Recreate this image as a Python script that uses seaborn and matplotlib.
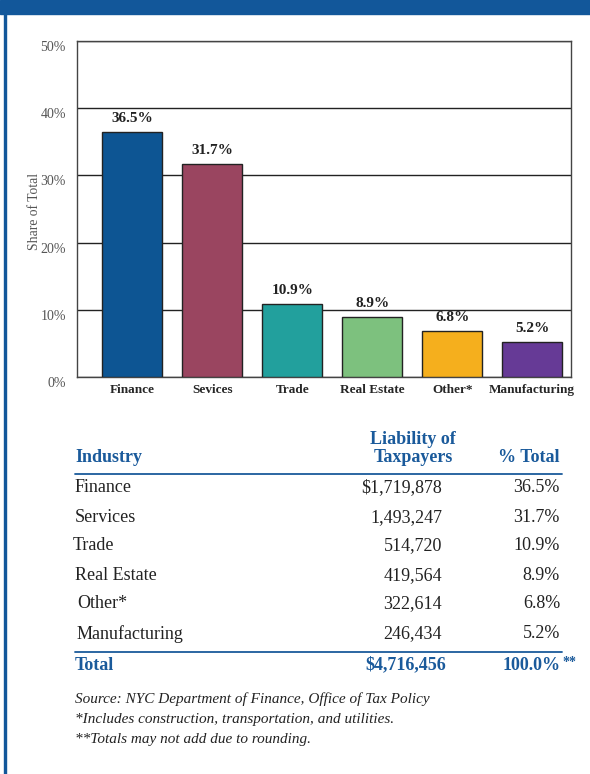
import matplotlib
matplotlib.use("Agg")
import matplotlib.pyplot as plt
import seaborn as sns
import pandas as pd
from matplotlib.patches import Rectangle
from matplotlib.lines import Line2D

# Business tax liability by industry
industries = ["Finance", "Sevices", "Trade", "Real Estate", "Other*", "Manufacturing"]
share_pct = [36.5, 31.7, 10.9, 8.9, 6.8, 5.2]
bar_colors = ["#0D5593", "#9A4560", "#22A09D", "#7DC17E", "#F5AF1D", "#663A96"]

table_rows = ["Finance", "Services", "Trade", "Real Estate", "Other*", "Manufacturing"]
liability = ["$1,719,878", "1,493,247", "514,720", "419,564", "322,614", "246,434"]
pct_total = ["36.5%", "31.7%", "10.9%", "8.9%", "6.8%", "5.2%"]
total_liability = "$4,716,456"
total_pct = "100.0%"
y_ticks = [0, 10, 20, 30, 40, 50]
y_tick_labels = ["0%", "10%", "20%", "30%", "40%", "50%"]
notes = ["Source: NYC Department of Finance, Office of Tax Policy",
         "*Includes construction, transportation, and utilities.",
         "**Totals may not add due to rounding."]

sns.set_style("white")
plt.rcParams["font.family"] = ["Liberation Serif", "DejaVu Serif"]

W, H = 590, 774
BLUE = "#1A5A9B"
fig = plt.figure(figsize=(W / 100, H / 100), dpi=100)


def px(x, y):
    return x / W, 1 - y / H


# page frame: top band and left rule
fig.patches.append(Rectangle((0, 1 - 14 / H), 1, 14 / H, transform=fig.transFigure,
                             color="#12579A", zorder=0))
fig.patches.append(Rectangle((4 / W, 0), 2.2 / W, 1, transform=fig.transFigure,
                             color="#12579A", zorder=0))

# bar chart
ax_l, ax_t, ax_r, ax_b = 77, 41, 571, 377
ax = fig.add_axes([ax_l / W, 1 - ax_b / H, (ax_r - ax_l) / W, (ax_b - ax_t) / H])
df = pd.DataFrame({"industry": industries, "share": share_pct})
sns.barplot(data=df, x="industry", y="share", hue="industry", palette=bar_colors,
            saturation=1, width=0.75, edgecolor="#222222", linewidth=1.0,
            legend=False, ax=ax, zorder=3)
ax.set_xlim(-0.69, 5.485)
ax.set_ylim(0, 50)
ax.set_yticks(y_ticks)
ax.set_yticklabels(y_tick_labels, fontsize=10, color="#555555", va="top")
ax.grid(axis="y", color="#222222", linewidth=1.0)
ax.set_axisbelow(True)
ax.tick_params(axis="both", length=0)
ax.tick_params(axis="y", pad=8)
ax.tick_params(axis="x", pad=5)
for lbl in ax.get_xticklabels():
    lbl.set_fontweight("bold")
    lbl.set_fontsize(9.5)
ax.set_xlabel("")
ax.set_ylabel("")
for s in ax.spines.values():
    s.set_color("#444444")
    s.set_linewidth(1.0)

for i, v in enumerate(share_pct):
    ax.annotate(f"{v}%", (i, v), xytext=(0, 5), textcoords="offset points",
                ha="center", va="bottom", fontsize=11, fontweight="bold", color="#222222")

fig.text(*px(34, 211), "Share of Total", rotation=90, ha="center", va="center",
         fontsize=9.8, color="#555555")

# data table
hdr = dict(fontsize=13, fontweight="bold", color=BLUE)
fig.text(*px(75, 458), "Industry", ha="left", va="center", **hdr)
fig.text(*px(413, 440), "Liability of", ha="center", va="center", **hdr)
fig.text(*px(413, 458), "Taxpayers", ha="center", va="center", **hdr)
fig.text(*px(560, 458), "% Total", ha="right", va="center", **hdr)
fig.add_artist(Line2D([75 / W, 562 / W], [1 - 474 / H] * 2, transform=fig.transFigure,
                      color=BLUE, linewidth=1.3))

row_y = [488, 518, 546, 576, 604, 634]
row_x = [75, 75, 73, 75, 77, 77]
for name, amt, pct, y, x in zip(table_rows, liability, pct_total, row_y, row_x):
    fig.text(*px(x, y), name, ha="left", va="center", fontsize=13, color="#222222")
    fig.text(*px(442, y), amt, ha="right", va="center", fontsize=13, color="#222222")
    fig.text(*px(560, y), pct, ha="right", va="center", fontsize=13, color="#222222")

fig.add_artist(Line2D([75 / W, 562 / W], [1 - 652 / H] * 2, transform=fig.transFigure,
                      color=BLUE, linewidth=1.3))
fig.text(*px(75, 665), "Total", ha="left", va="center", **hdr)
fig.text(*px(446, 665), total_liability, ha="right", va="center", **hdr)
fig.text(*px(561, 665), total_pct, ha="right", va="center", **hdr)
fig.text(*px(562, 662), "**", ha="left", va="center", fontsize=10, fontweight="bold",
         color=BLUE)

for k, note in enumerate(notes):
    fig.text(*px(75, 699 + 20 * k), note, ha="left", va="center", fontsize=11,
             style="italic", color="#222222")

fig.savefig("out.png", dpi=100)
